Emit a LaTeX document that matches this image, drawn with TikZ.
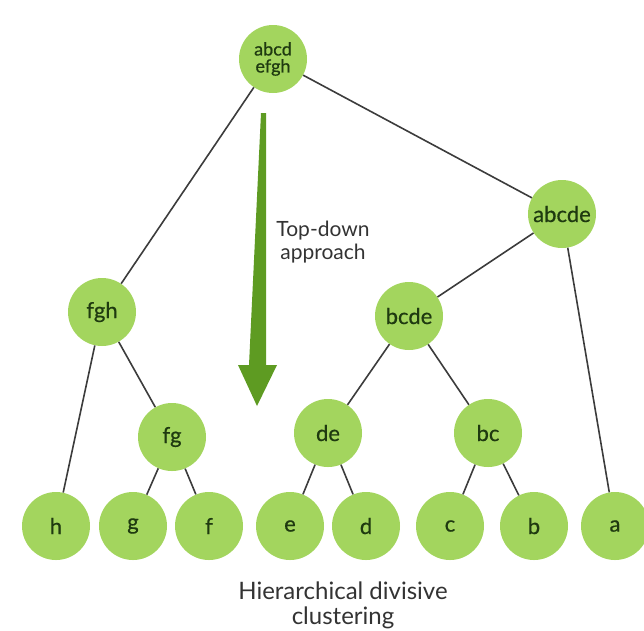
\documentclass[tikz,border=0pt]{standalone}
\usepackage{fontspec}
\setmainfont{Lato}
\newfontfamily\nodefont{Lato}[FakeBold=0.6]
\begin{document}
\begin{tikzpicture}[x=1pt,y=-1pt,
  cl/.style={circle,fill=nodegreen,minimum size=68pt,inner sep=0pt,text=labeltext,font=\nodefont\fontsize{22}{24}\selectfont},
  edge/.style={draw=edgegray,line width=1.6pt}]
\definecolor{nodegreen}{HTML}{A3D55E}
\definecolor{labeltext}{HTML}{1F3A10}
\definecolor{edgegray}{HTML}{3C3C3C}
\definecolor{arrowgreen}{HTML}{5E9B22}
\definecolor{captext}{HTML}{333333}
\useasboundingbox (0,0) rectangle (644,630);
% nodes
\node[cl,font=\nodefont\fontsize{18}{17}\selectfont,align=center] (root) at (273,59) {abcd\\efgh};
\node[cl] (abcde) at (562,214) {abcde};
\node[cl] (fgh) at (102,312) {fgh};
\node[cl] (bcde) at (409,316) {bcde};
\node[cl] (fg) at (172,437) {fg};
\node[cl] (de) at (328,433) {de};
\node[cl] (bc) at (488,433) {bc};
\node[cl] (h) at (56,526) {h};
\node[cl] (g) at (133,526) {g};
\node[cl] (f) at (209,526) {f};
\node[cl] (e) at (290,526) {e};
\node[cl] (d) at (366,526) {d};
\node[cl] (c) at (450,526) {c};
\node[cl] (b) at (534,526) {b};
\node[cl] (a) at (615,526) {a};
% edges
\draw[edge] (root) -- (fgh);
\draw[edge] (root) -- (abcde);
\draw[edge] (abcde) -- (bcde);
\draw[edge] (abcde) -- (a);
\draw[edge] (fgh) -- (h);
\draw[edge] (fgh) -- (fg);
\draw[edge] (fg) -- (g);
\draw[edge] (fg) -- (f);
\draw[edge] (bcde) -- (de);
\draw[edge] (bcde) -- (bc);
\draw[edge] (de) -- (e);
\draw[edge] (de) -- (d);
\draw[edge] (bc) -- (c);
\draw[edge] (bc) -- (b);
% arrow
\coordinate (arrtip) at (257,406);
\fill[arrowgreen] (261,113) -- (266,113) -- (266,365) -- (277,365) -- (arrtip) -- (238,365) -- (249,365) -- cycle;
\node[text=captext,font=\fontsize{21}{23}\selectfont,align=center] (td) at (323,242) {Top-down\\approach};
\node[text=captext,font=\fontsize{24}{25}\selectfont,align=center] (cap) at (343,605) {Hierarchical divisive\\clustering};
\end{tikzpicture}
\end{document}
